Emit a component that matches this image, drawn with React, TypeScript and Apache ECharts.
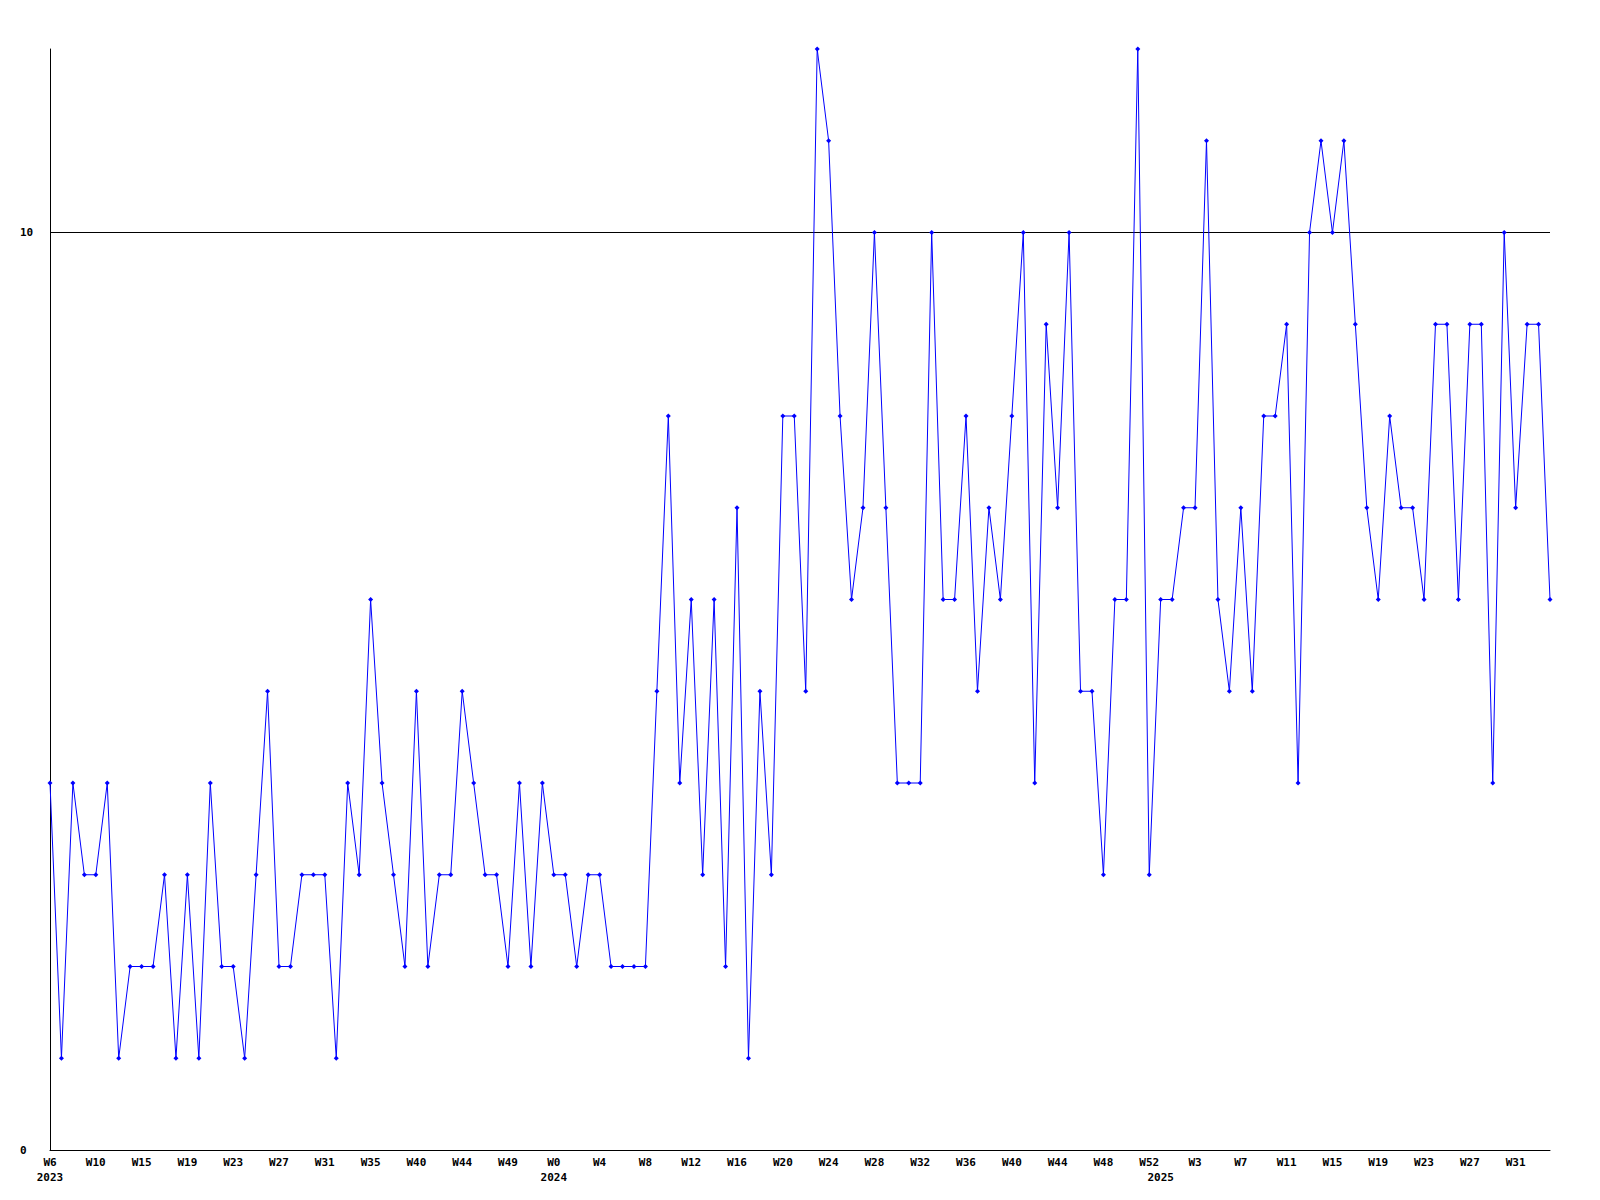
import React, { useEffect, useRef } from 'react';
import * as echarts from 'echarts';

// Weekly values, one per point (132 points)
const values = [
  4, 1, 4, 3, 3, 4, 1, 2, 2, 2, 3, 1, 3, 1, 4, 2, 2, 1, 3, 5, 2, 2, 3, 3, 3, 1, 4, 3, 6, 4, 3, 2, 5, 2,
  3, 3, 5, 4, 3, 3, 2, 4, 2, 4, 3, 3, 2, 3, 3, 2, 2, 2, 2,
  5, 8, 4, 6, 3, 6, 2, 7, 1, 5, 3, 8, 8, 5, 12, 11, 8, 6, 7, 10, 7, 4, 4, 4, 10, 6, 6, 8,
  5, 7, 6, 8, 10, 4, 9, 7, 10, 5, 5, 3, 6, 6, 12, 3, 6, 6, 7, 7, 11, 6, 5, 7, 5, 8, 8, 9,
  4, 10, 11, 10, 11, 9, 7, 6, 8, 7, 7, 6, 9, 9, 6, 9, 9, 4, 10, 7, 9, 9, 6,
];

// Tick labels, shown at every 4th point
const tickLabels = [
  'W6', 'W10', 'W15', 'W19', 'W23', 'W27', 'W31', 'W35', 'W40', 'W44', 'W49',
  'W0', 'W4', 'W8', 'W12', 'W16', 'W20', 'W24', 'W28', 'W32', 'W36', 'W40', 'W44', 'W48', 'W52',
  'W3', 'W7', 'W11', 'W15', 'W19', 'W23', 'W27', 'W31',
];
const tickStep = 4;

// Year labels and the point index where each year starts
const yearLabels = ['2023', '2024', '2025'];
const yearIndices = [0, 44, 97];

const referenceLine = 10;

export default function App() {
  const ref = useRef<HTMLDivElement>(null);

  useEffect(() => {
    const chart = echarts.init(ref.current!, null, { renderer: 'svg' });
    const cats = values.map((_, i) => String(i));
    const font = {
      fontFamily: 'DejaVu Sans Mono',
      fontWeight: 'bold' as const,
      fontSize: 11,
      color: '#000',
    };
    chart.setOption({
      animation: false,
      backgroundColor: '#ffffff',
      grid: { left: 50, right: 50, top: 49, bottom: 50, containLabel: false },
      xAxis: [
        {
          type: 'category',
          data: cats,
          boundaryGap: false,
          axisLine: { show: true, lineStyle: { color: '#000', width: 1 } },
          axisTick: { show: false },
          splitLine: { show: false },
          axisLabel: {
            ...font,
            margin: 7,
            interval: (i: number) => i % tickStep === 0,
            formatter: (_v: string, i: number) =>
              i % tickStep === 0 ? tickLabels[i / tickStep] ?? '' : '',
          },
        },
        {
          type: 'category',
          data: cats,
          boundaryGap: false,
          position: 'bottom',
          offset: 15,
          axisLine: { show: false },
          axisTick: { show: false },
          splitLine: { show: false },
          axisLabel: {
            ...font,
            margin: 7,
            interval: (i: number) => yearIndices.indexOf(i) >= 0,
            formatter: (_v: string, i: number) => {
              const k = yearIndices.indexOf(i);
              return k >= 0 ? yearLabels[k] : '';
            },
          },
        },
      ],
      yAxis: {
        type: 'value',
        min: 0,
        max: 12,
        interval: 10,
        axisLine: { show: true, lineStyle: { color: '#000', width: 1 } },
        axisTick: { show: false },
        splitLine: { show: false },
        axisLabel: {
          ...font,
          align: 'left',
          margin: 30,
          formatter: (v: number) => (v === 0 || v === 10 ? String(v) : ''),
        },
      },
      series: [
        {
          type: 'line',
          data: values,
          xAxisIndex: 0,
          symbol: 'diamond',
          symbolSize: 5,
          itemStyle: { color: '#0000ff' },
          lineStyle: { color: '#0000ff', width: 1 },
          z: 3,
          markLine: {
            silent: true,
            symbol: 'none',
            label: { show: false },
            emphasis: { disabled: true },
            lineStyle: { color: '#000', width: 1, type: 'solid' },
            data: [{ yAxis: referenceLine }],
            z: 1,
          },
        },
      ],
    });
    return () => chart.dispose();
  }, []);

  return (
    <div
      ref={ref}
      style={{ position: 'fixed', left: 0, top: 0, width: 1600, height: 1200, background: '#fff' }}
    />
  );
}
